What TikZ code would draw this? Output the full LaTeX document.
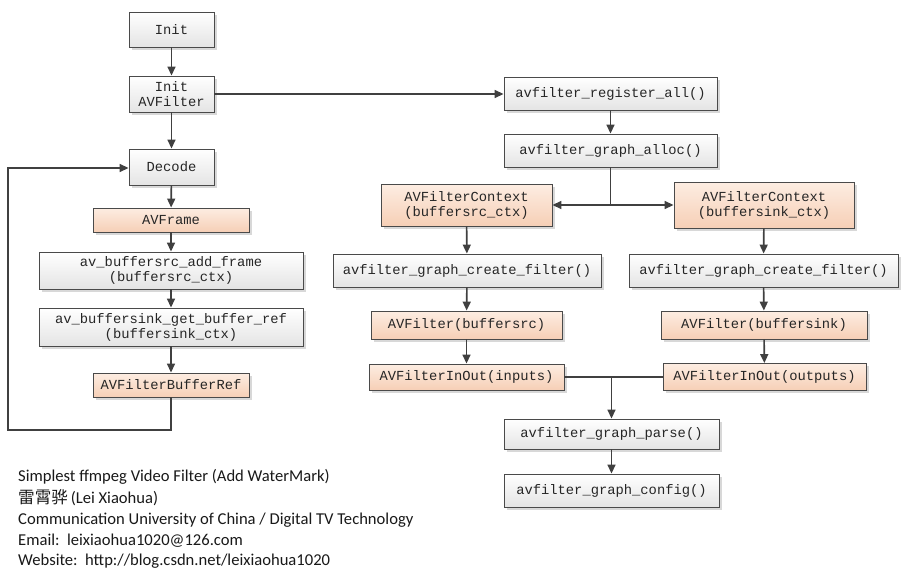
\documentclass[tikz,border=0pt]{standalone}
\usepackage{fontspec}
\setmainfont{Carlito}
\newfontfamily\boxfont{Liberation Mono}
\newfontfamily\cjk{Noto Sans CJK SC}
\usetikzlibrary{arrows.meta,shadows,positioning}
\definecolor{linegray}{HTML}{404040}
\definecolor{bordergray}{HTML}{4A4A4A}
\definecolor{plaintop}{HTML}{FFFFFF}
\definecolor{plainbot}{HTML}{E4E4E4}
\definecolor{orgtop}{HTML}{FDEDE2}
\definecolor{orgbot}{HTML}{F6CFB6}
\tikzset{
  base/.style={draw=bordergray, line width=0.9pt, inner sep=0pt, align=center,
    font=\boxfont\fontsize{13.8}{16}\selectfont, text=black!85,
    drop shadow={shadow xshift=2.5pt, shadow yshift=-2.5pt, opacity=0.25, fill=black!60}},
  plainbox/.style={base, top color=plaintop, bottom color=plainbot},
  orgbox/.style={base, top color=orgtop, bottom color=orgbot},
  sz/.style 2 args={minimum width=#1pt, minimum height=#2pt},
  conn/.style={draw=linegray, line width=1.6pt, -{Triangle[length=9pt,width=8pt]}},
  plainline/.style={draw=linegray, line width=1.6pt},
  note/.style={anchor=west, inner sep=0pt, font=\fontsize{16.6}{19}\selectfont, text=black!90}
}
\begin{document}
\begin{tikzpicture}[x=1pt,y=-1pt]
\useasboundingbox[fill=white] (0,0) rectangle (911,570);
% left column
\node[plainbox, sz={85}{35}] (init) at (171.5,29.5) {Init};
\node[plainbox, sz={85}{36}] (initav) at (171.5,94) {Init\\[-1pt]AVFilter};
\node[plainbox, sz={85}{36}] (decode) at (171.5,167) {Decode};
\node[orgbox, sz={156}{24}] (avframe) at (171,220) {AVFrame};
\node[plainbox, sz={264}{37}] (addframe) at (171,270.5) {av\_buffersrc\_add\_frame\\[-1pt](buffersrc\_ctx)};
\node[plainbox, sz={264}{38}] (getbuf) at (171,327) {av\_buffersink\_get\_buffer\_ref\\[-1pt](buffersink\_ctx)};
\node[orgbox, sz={156}{24}] (bufref) at (171,385) {AVFilterBufferRef};
% right part
\node[plainbox, sz={213}{33}] (register) at (610.5,93.5) {avfilter\_register\_all()};
\node[plainbox, sz={213}{33}] (alloc) at (610.5,150.5) {avfilter\_graph\_alloc()};
\node[orgbox, sz={171}{42}] (ctxsrc) at (466.5,205) {AVFilterContext\\[-1pt](buffersrc\_ctx)};
\node[orgbox, sz={180}{46}] (ctxsink) at (764,205) {AVFilterContext\\[-1pt](buffersink\_ctx)};
\node[plainbox, sz={268}{33}] (cfsrc) at (467,270.5) {avfilter\_graph\_create\_filter()};
\node[plainbox, sz={269}{33}] (cfsink) at (763.5,270.5) {avfilter\_graph\_create\_filter()};
\node[orgbox, sz={191}{28}] (fsrc) at (466.5,325) {AVFilter(buffersrc)};
\node[orgbox, sz={206}{28}] (fsink) at (764,325) {AVFilter(buffersink)};
\node[orgbox, sz={195}{26}] (iosrc) at (466.5,377) {AVFilterInOut(inputs)};
\node[orgbox, sz={203}{27}] (iosink) at (764.5,377) {AVFilterInOut(outputs)};
\node[plainbox, sz={215}{30}] (parse) at (611.5,434) {avfilter\_graph\_parse()};
\node[plainbox, sz={215}{33}] (config) at (611.5,490.5) {avfilter\_graph\_config()};
% helper coordinates
\coordinate (loopA) at (171,430);
\coordinate (loopB) at (8,430);
\coordinate (loopC) at (8,168);
\coordinate (split) at (610.5,205);
\coordinate (join) at (611.5,377);
% connectors left
\draw[conn] (init) -- (initav);
\draw[conn] (initav) -- (decode);
\draw[conn] (initav.east) -- (register.west |- initav.east);
\draw[conn] (decode) -- (avframe);
\draw[conn] (avframe) -- (addframe);
\draw[conn] (addframe) -- (getbuf);
\draw[conn] (getbuf) -- (bufref);
\draw[conn] (bufref.south) -- (loopA) -- (loopB) -- (loopC) -- (decode.west |- loopC);
% connectors right
\draw[conn] (register) -- (alloc);
\draw[plainline] (alloc.south) -- (split);
\draw[conn] (split) -- (ctxsrc.east);
\draw[conn] (split) -- (ctxsink.west);
\draw[conn] (ctxsrc) -- (cfsrc);
\draw[conn] (cfsrc) -- (fsrc);
\draw[conn] (fsrc) -- (iosrc);
\draw[conn] (ctxsink) -- (cfsink);
\draw[conn] (cfsink) -- (fsink);
\draw[conn] (fsink) -- (iosink);
\draw[plainline] (iosrc.east) -- (iosink.west);
\draw[conn] (join) -- (parse.north);
\draw[conn] (parse) -- (config);
% notes
\node[note] (n1) at (18,477) {Simplest ffmpeg Video Filter (Add WaterMark)};
\node[note] (n2) at (18,498) {{\cjk 雷霄骅}\,(Lei Xiaohua)};
\node[note] (n3) at (18,520) {Communication University of China / Digital TV Technology};
\node[note] (n4) at (18,541) {Email:\ \ leixiaohua1020@126.com};
\node[note] (n5) at (18,561) {Website:\ \ http://blog.csdn.net/leixiaohua1020};
\end{tikzpicture}
\end{document}
